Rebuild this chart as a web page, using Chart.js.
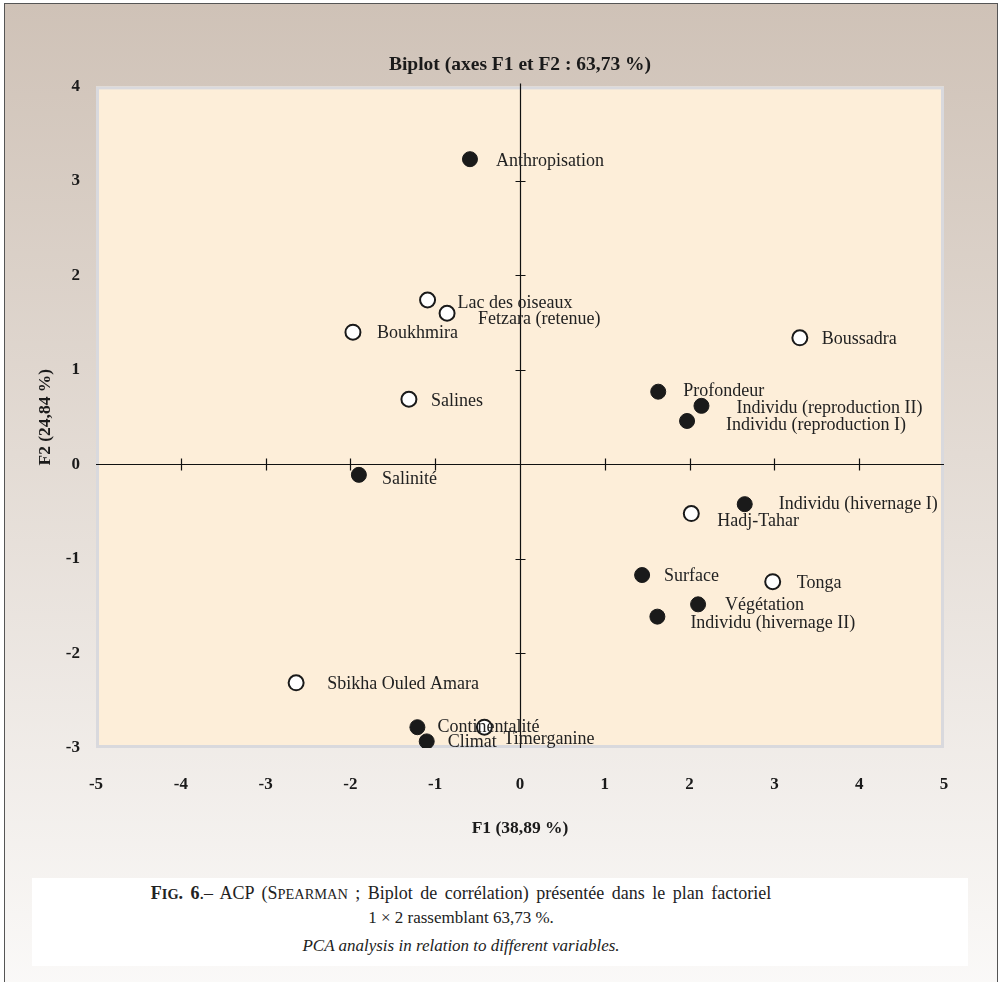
<!DOCTYPE html>
<html>
<head>
<meta charset="utf-8">
<script src="https://cdn.jsdelivr.net/npm/chart.js@4"></script>
<style>
  html, body { margin: 0; padding: 0; background: #fff; }
  #page { position: relative; width: 1002px; height: 982px; overflow: hidden; }
  #frame { position: absolute; left: 4px; top: 3px; width: 992px; height: 1000px;
    border: 1.5px solid #555; border-bottom: none;
    background: linear-gradient(to bottom, #cfc2b7 0%, #e3dbd4 45%, #fbfaf9 100%); }
  #chart { position: absolute; left: 0; top: 0; z-index: 1; }
  #caption { position: absolute; left: 32px; top: 878px; width: 936px; height: 88px; background: #fff; z-index: 2; }
  #caption .txt { position: absolute; left: 0; top: 4px; width: 858px; text-align: center;
    font-family: "Liberation Serif", serif; font-size: 17px; color: #222; line-height: 23px; }
  #caption .l1 { font-size: 18px; word-spacing: 3px; }
  #caption .en { font-style: italic; margin-top: 5px; }
  .sm { font-size: 0.8em; }
</style>
</head>
<body>
<div id="page">
  <div id="frame"></div>
  <canvas id="chart" width="1002" height="982"></canvas>
  <div id="caption">
    <div class="txt">
      <div class="l1"><b>F<span class="sm">IG</span>. 6</b>.– ACP (S<span class="sm">PEARMAN</span> ; Biplot de corrélation) présentée dans le plan factoriel</div>
      <div>1 × 2 rassemblant 63,73 %.</div>
      <div class="en">PCA analysis in relation to different variables.</div>
    </div>
  </div>
</div>
<script>
// variables (filled points)
const variableNames = ['Anthropisation', 'Profondeur', 'Individu (reproduction II)', 'Individu (reproduction I)',
  'Salinité', 'Individu (hivernage I)', 'Surface', 'Végétation', 'Individu (hivernage II)', 'Continentalité', 'Climat'];
const variableF1 = [-0.59, 1.63, 2.14, 1.97, -1.90, 2.65, 1.44, 2.10, 1.62, -1.21, -1.10];
const variableF2 = [3.23, 0.77, 0.62, 0.46, -0.11, -0.42, -1.17, -1.48, -1.61, -2.78, -2.93];

// sites (open points)
const siteNames = ['Lac des oiseaux', 'Fetzara (retenue)', 'Boukhmira', 'Salines', 'Boussadra',
  'Hadj-Tahar', 'Tonga', 'Sbikha Ouled Amara', 'Timerganine'];
const siteF1 = [-1.09, -0.86, -1.97, -1.31, 3.30, 2.02, 2.98, -2.64, -0.42];
const siteF2 = [1.74, 1.60, 1.40, 0.69, 1.34, -0.52, -1.24, -2.31, -2.78];

const xTicks = [-5, -4, -3, -2, -1, 0, 1, 2, 3, 4, 5];
const yTicks = [-3, -2, -1, 0, 1, 2, 3, 4];

// label placement relative to the point, in px
const labelOffset = {
  'Anthropisation': [26, 2], 'Profondeur': [25, 0], 'Individu (reproduction II)': [35, 2],
  'Individu (reproduction I)': [39, 4], 'Salinité': [23, 4], 'Individu (hivernage I)': [34, 0],
  'Surface': [22, 1], 'Végétation': [27, 1], 'Individu (hivernage II)': [33, 7],
  'Continentalité': [20, 0], 'Climat': [21, 1],
  'Lac des oiseaux': [30, 3], 'Fetzara (retenue)': [31, 6], 'Boukhmira': [24, 1], 'Salines': [22, 2],
  'Boussadra': [22, 1], 'Hadj-Tahar': [26, 8], 'Tonga': [24, 2], 'Sbikha Ouled Amara': [31, 1],
  'Timerganine': [19, 12]
};

const SERIF = '"Liberation Serif", "DejaVu Serif", serif';
const INK = '#1a1a1a';

const plotBack = {
  id: 'plotBack',
  beforeDraw(chart) {
    const {ctx, chartArea: a} = chart;
    ctx.save();
    ctx.fillStyle = '#fdeed9';
    ctx.fillRect(a.left, a.top, a.right - a.left, a.bottom - a.top);
    ctx.strokeStyle = '#d9d9dd';
    ctx.lineWidth = 3;
    ctx.strokeRect(a.left + 1.5, a.top + 1.5, a.right - a.left - 3, a.bottom - a.top - 3);
    ctx.restore();
  }
};

const crossAxes = {
  id: 'crossAxes',
  beforeDatasetsDraw(chart) {
    const {ctx, chartArea: a, scales: {x, y}} = chart;
    const x0 = Math.round(x.getPixelForValue(0)) + 0.5;
    const y0 = Math.round(y.getPixelForValue(0)) + 0.5;
    ctx.save();
    ctx.strokeStyle = '#111';
    ctx.lineWidth = 1.2;
    ctx.beginPath();
    ctx.moveTo(a.left, y0); ctx.lineTo(a.right, y0);
    ctx.moveTo(x0, a.top - 3); ctx.lineTo(x0, a.bottom);
    xTicks.forEach(v => {
      if (v === 0 || v === -5 || v === 5) return;
      const px = Math.round(x.getPixelForValue(v)) + 0.5;
      ctx.moveTo(px, y0 - 6); ctx.lineTo(px, y0 + 6);
    });
    yTicks.forEach(v => {
      if (v === 0 || v === 4 || v === -3) return;
      const py = Math.round(y.getPixelForValue(v)) + 0.5;
      ctx.moveTo(x0 - 5, py); ctx.lineTo(x0 + 5, py);
    });
    ctx.stroke();
    ctx.restore();
  }
};

const pointLabels = {
  id: 'pointLabels',
  afterDatasetsDraw(chart) {
    const {ctx} = chart;
    ctx.save();
    ctx.font = '18px ' + SERIF;
    ctx.fillStyle = '#222';
    ctx.textAlign = 'left';
    ctx.textBaseline = 'middle';
    chart.data.datasets.forEach((ds, i) => {
      chart.getDatasetMeta(i).data.forEach((pt, j) => {
        const name = ds.names[j];
        const off = labelOffset[name] || [20, 0];
        ctx.fillText(name, pt.x + off[0], pt.y + off[1]);
      });
    });
    ctx.restore();
  }
};

new Chart(document.getElementById('chart'), {
  type: 'scatter',
  data: {
    datasets: [
      {
        label: 'Variables',
        names: variableNames,
        data: variableF1.map((v, i) => ({x: v, y: variableF2[i]})),
        pointRadius: 7.5,
        pointBackgroundColor: '#1a1a1a',
        pointBorderColor: '#1a1a1a',
        pointBorderWidth: 1
      },
      {
        label: 'Sites',
        names: siteNames,
        data: siteF1.map((v, i) => ({x: v, y: siteF2[i]})),
        pointRadius: 7.5,
        pointBackgroundColor: '#ffffff',
        pointBorderColor: '#1a1a1a',
        pointBorderWidth: 2
      }
    ]
  },
  options: {
    responsive: false,
    animation: false,
    layout: {padding: {left: 0, right: 58, top: 0, bottom: 122}},
    plugins: {
      legend: {display: false},
      tooltip: {enabled: false},
      title: {
        display: true,
        fullSize: false,
        text: 'Biplot (axes F1 et F2 : 63,73 %)',
        color: INK,
        font: {family: SERIF, size: 19.5, weight: 'bold'},
        padding: {top: 53, bottom: 10}
      }
    },
    scales: {
      x: {
        type: 'linear', min: -5, max: 5,
        grid: {display: false, drawTicks: false},
        border: {display: false},
        ticks: {stepSize: 1, padding: 26, color: INK, font: {family: SERIF, size: 17, weight: 'bold'}},
        title: {display: true, text: 'F1 (38,89 %)', color: INK,
          font: {family: SERIF, size: 17.5, weight: 'bold'}, padding: {top: 0, bottom: 21}},
        afterFit(s) { s.height = 112; }
      },
      y: {
        type: 'linear', min: -3, max: 4,
        grid: {display: false, drawTicks: false},
        border: {display: false},
        ticks: {stepSize: 1, padding: 16, color: INK, font: {family: SERIF, size: 17, weight: 'bold'}},
        title: {display: true, text: 'F2 (24,84 %)', color: INK,
          font: {family: SERIF, size: 17.5, weight: 'bold'}, padding: {top: 35, bottom: 0}},
        afterFit(s) { s.width = 96; }
      }
    }
  },
  plugins: [plotBack, crossAxes, pointLabels]
});
</script>
</body>
</html>
